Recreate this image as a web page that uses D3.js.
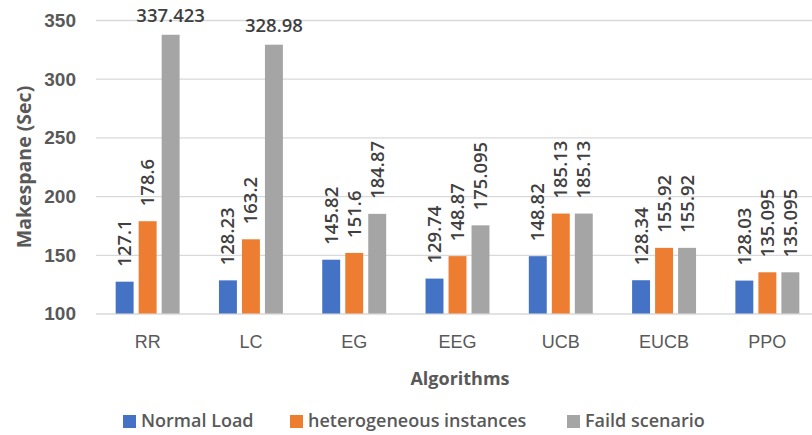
<!DOCTYPE html>
<html>
<head>
<meta charset="utf-8">
<script src="https://cdn.jsdelivr.net/npm/d3@7"></script>
<style>
  html, body { margin: 0; padding: 0; background: #fff; }
  svg { display: block; font-family: "Open Sans", "Noto Sans", sans-serif; }
</style>
</head>
<body>
<svg id="chart" width="812" height="435"></svg>
<script>
// Makespan per scheduling algorithm under three load conditions
const categories = ["RR", "LC", "EG", "EEG", "UCB", "EUCB", "PPO"];
const seriesNames = ["Normal Load", "heterogeneous instances", "Faild scenario"];
const normalLoad = [127.1, 128.23, 145.82, 129.74, 148.82, 128.34, 128.03];
const heterogeneous = [178.6, 163.2, 151.6, 148.87, 185.13, 155.92, 135.095];
const failed = [337.423, 328.98, 184.87, 175.095, 185.13, 155.92, 135.095];
const yTicks = [100, 150, 200, 250, 300, 350];
const colors = ["#4472C4", "#ED7D31", "#A5A5A5"];

const seriesValues = [normalLoad, heterogeneous, failed];

const svg = d3.select("#chart");
const textColor = "#595959";
const labelColor = "#404040";

const x = d3.scaleBand().domain(categories).range([96, 819]).padding(0);
const xInner = d3.scaleBand().domain(seriesNames).range([-34.5, 34.5])
  .paddingInner(0.22).paddingOuter(0.11);
const y = d3.scaleLinear().domain([100, 350]).range([313.5, 20]);

// horizontal gridlines
const yAxis = d3.axisLeft(y).tickValues(yTicks).tickSize(-(819 - 96)).tickPadding(20);
const gy = svg.append("g").attr("transform", "translate(96,0)").call(yAxis);
gy.select(".domain").remove();
gy.selectAll(".tick line").attr("stroke", "#D9D9D9").attr("stroke-width", 1.3);
gy.selectAll(".tick text")
  .attr("fill", textColor)
  .attr("font-size", 19)
  .attr("font-weight", 600)
  .attr("dy", "0.34em");

// category axis labels
const xAxis = d3.axisBottom(x).tickSize(0).tickPadding(22);
const gx = svg.append("g").attr("transform", "translate(0,313.5)").call(xAxis);
gx.select(".domain").remove();
gx.selectAll(".tick text")
  .attr("fill", textColor)
  .attr("font-size", 18)
  .attr("dy", "0.71em");

// bars
const rows = [];
categories.forEach((c, i) => {
  seriesNames.forEach((s, j) => {
    rows.push({ cat: c, series: s, j, value: seriesValues[j][i] });
  });
});

svg.append("g").selectAll("rect")
  .data(rows)
  .join("rect")
  .attr("x", d => x(d.cat) + x.bandwidth() / 2 + xInner(d.series))
  .attr("width", xInner.bandwidth())
  .attr("y", d => y(d.value))
  .attr("height", d => y(100) - y(d.value))
  .attr("fill", d => colors[d.j]);

// value labels: vertical above the bar, horizontal when the bar nearly reaches the top
const labels = svg.append("g")
  .attr("fill", labelColor)
  .attr("font-size", 18.5)
  .attr("font-weight", 600);

rows.forEach(d => {
  const cx = x(d.cat) + x.bandwidth() / 2 + xInner(d.series) + xInner.bandwidth() / 2;
  const top = y(d.value);
  if (top - 75 < 0) {
    labels.append("text")
      .attr("x", cx)
      .attr("y", top - 13)
      .attr("text-anchor", "middle")
      .text(String(d.value));
  } else {
    labels.append("text")
      .attr("transform", `translate(${cx},${top - 15}) rotate(-90)`)
      .attr("text-anchor", "start")
      .attr("dy", "0.35em")
      .text(String(d.value));
  }
});

// axis titles
svg.append("text")
  .attr("transform", "translate(24,167) rotate(-90)")
  .attr("text-anchor", "middle")
  .attr("dy", "0.35em")
  .attr("fill", textColor)
  .attr("font-size", 19.5)
  .attr("font-weight", 700)
  .text("Makespane (Sec)");

svg.append("text")
  .attr("x", 460)
  .attr("y", 385)
  .attr("text-anchor", "middle")
  .attr("fill", textColor)
  .attr("font-size", 18)
  .attr("font-weight", 700)
  .text("Algorithms");

// legend
const legendX = [123, 290, 567];
const legend = svg.append("g");
seriesNames.forEach((s, j) => {
  legend.append("rect")
    .attr("x", legendX[j]).attr("y", 415)
    .attr("width", 13).attr("height", 13)
    .attr("fill", colors[j]);
  legend.append("text")
    .attr("x", legendX[j] + 18).attr("y", 427)
    .attr("fill", textColor)
    .attr("font-size", 18)
    .attr("font-weight", 600)
    .text(s);
});
</script>
</body>
</html>
